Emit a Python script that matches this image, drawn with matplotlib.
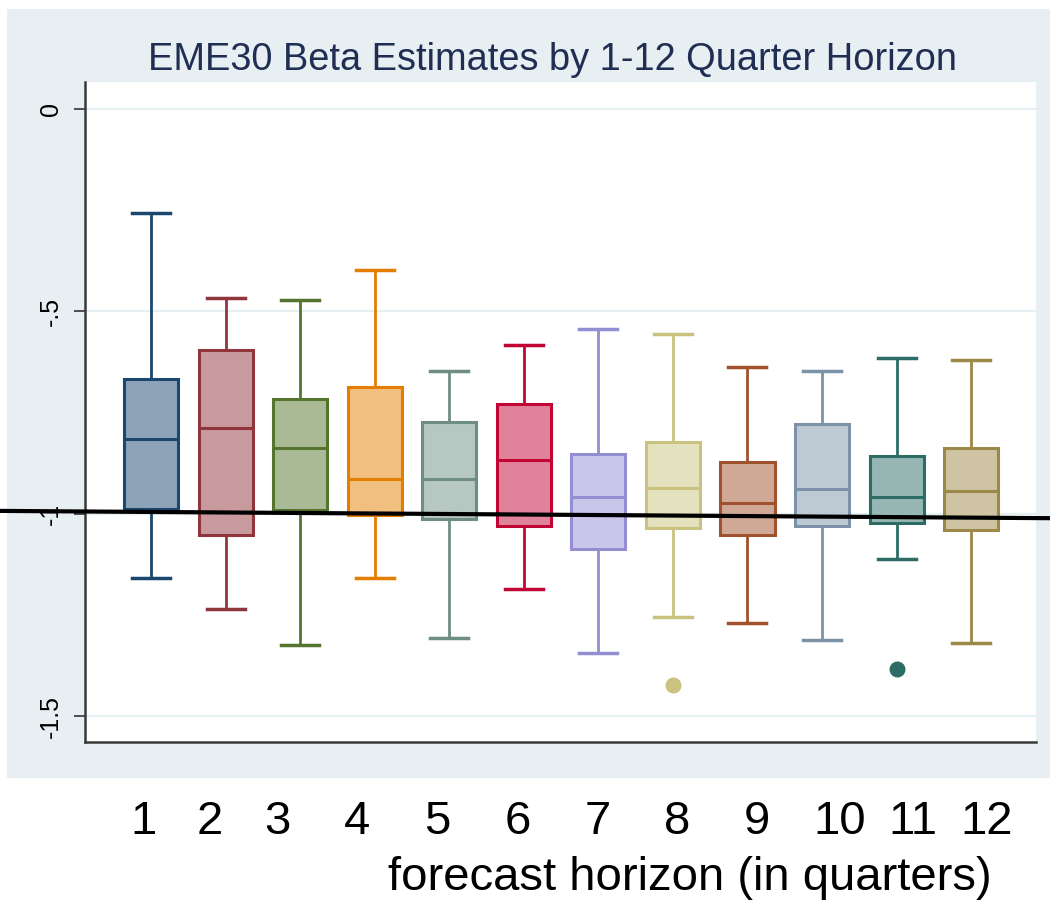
import matplotlib.pyplot as plt
import matplotlib.transforms as mtransforms
from matplotlib.colors import to_rgb
from matplotlib.patches import Rectangle

plt.rcParams['font.family'] = ['Liberation Sans', 'DejaVu Sans']

# box plot summaries per forecast horizon (quarters 1-12)
horizons = list(range(1, 13))
whisker_hi = [-0.257, -0.466, -0.472, -0.398, -0.647, -0.583, -0.544, -0.557, -0.637, -0.648, -0.616, -0.619]
q3 = [-0.667, -0.596, -0.717, -0.688, -0.773, -0.729, -0.853, -0.823, -0.872, -0.778, -0.857, -0.838]
median = [-0.816, -0.789, -0.838, -0.914, -0.913, -0.867, -0.958, -0.936, -0.974, -0.940, -0.959, -0.945]
q1 = [-0.989, -1.053, -0.991, -1.002, -1.014, -1.030, -1.087, -1.035, -1.053, -1.030, -1.023, -1.039]
whisker_lo = [-1.160, -1.236, -1.324, -1.160, -1.306, -1.187, -1.345, -1.254, -1.269, -1.311, -1.113, -1.319]
outliers = [[], [], [], [], [], [], [], [-1.422], [], [], [-1.383], []]

# hand-drawn reference line near beta = -1 (slight tilt across the slide)
ref_line = [-0.993, -1.011]

# Stata s2color palette
colors = ['#1a476f', '#90353b', '#55752f', '#e37e00', '#6e8e84', '#c10534',
          '#938dd2', '#cac27e', '#a0522d', '#7b92a8', '#2d6d66', '#9c8847']


def lighten(c, amount=0.5):
    r, g, b = to_rgb(c)
    return (r + (1 - r) * amount, g + (1 - g) * amount, b + (1 - b) * amount)


fig = plt.figure(figsize=(10.5, 9.02), dpi=100, facecolor='white')
fig.patches.append(Rectangle((7 / 1050, 1 - 778 / 902), 1 - 7 / 1050, (778 - 9) / 902,
                             transform=fig.transFigure, facecolor='#e8eff2',
                             edgecolor='none', zorder=-5))

ax = fig.add_axes([85 / 1050, 1 - 742 / 902, (1036 - 85) / 1050, (742 - 82) / 902])
ax.set_zorder(1)
ax.set_facecolor('white')

for i, h in enumerate(horizons):
    st = dict(med=median[i], q1=q1[i], q3=q3[i], whislo=whisker_lo[i],
              whishi=whisker_hi[i], fliers=outliers[i])
    c = colors[i]
    ax.bxp([st], positions=[h], widths=0.725, patch_artist=True,
           boxprops=dict(facecolor=lighten(c), edgecolor=c, linewidth=2.2),
           medianprops=dict(color=c, linewidth=2.2),
           whiskerprops=dict(color=c, linewidth=2),
           capprops=dict(color=c, linewidth=2.5),
           capwidths=0.51,
           flierprops=dict(marker='o', markersize=10.5, markerfacecolor=c,
                           markeredgecolor=c))

ax.set_xlim(0.114, 12.87)
ax.set_ylim(-1.564, 0.0667)
ax.set_yticks([0, -0.5, -1, -1.5])
ax.set_yticklabels(['0', '-.5', '-1', '-1.5'], rotation=90, va='center', fontsize=18)
ax.tick_params(axis='y', length=8, width=1.2, color='#333333', pad=8)
ax.set_xticks([])
ax.yaxis.grid(True, color='#e6eff1', linewidth=1.6)
ax.set_axisbelow(True)
for s in ['top', 'right']:
    ax.spines[s].set_visible(False)
for s in ['left', 'bottom']:
    ax.spines[s].set_linewidth(1.8)
    ax.spines[s].set_color('#3a3a3a')

# reference line runs across the full width of the figure
trans = mtransforms.blended_transform_factory(fig.transFigure, ax.transData)
ax.plot([0, 1], ref_line, color='black', linewidth=3, transform=trans,
        clip_on=False, zorder=5)

fig.text(553 / 1050, 1 - 60 / 902, 'EME30 Beta Estimates by 1-12 Quarter Horizon',
         ha='center', va='center', fontsize=27.4, color='#1f2e52')

# horizon labels sit below the graph panel
label_x_px = [143, 210, 277, 357, 437, 518, 598, 677, 757, 840, 913, 987]
for x, h in zip(label_x_px, horizons):
    fig.text(x / 1050, 1 - 822 / 902, str(h), ha='center', va='center', fontsize=34)
fig.text(690 / 1050, 1 - 878 / 902, 'forecast horizon (in quarters)',
         ha='center', va='center', fontsize=34)

fig.savefig('out.png', dpi=100, facecolor='white')
